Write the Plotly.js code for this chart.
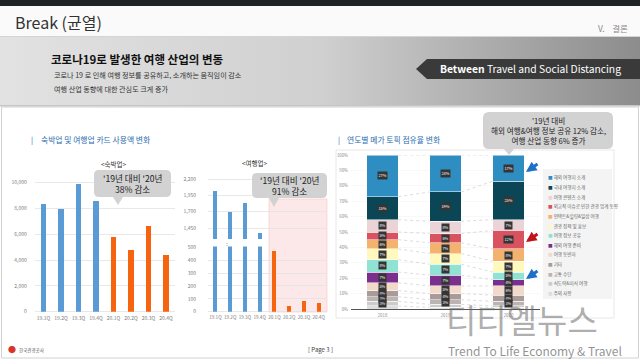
<!DOCTYPE html>
<html><head><meta charset="utf-8">
<script src="https://cdn.plot.ly/plotly-3.0.1.min.js"></script>
<style>
html,body{margin:0;padding:0;background:#fff;}
#wrap{position:relative;width:640px;height:361px;overflow:hidden;background:#fff;}
#bgTop{position:absolute;left:0;top:0;width:640px;height:6px;background:#1d2226;}
#bgHead{position:absolute;left:0;top:6px;width:640px;height:30px;background:#fafafa;}
#bgBand{position:absolute;left:0;top:36px;width:640px;height:70px;background:linear-gradient(90deg,#e2e2e2 0%,#d0d0d0 50%,#8c8c8c 100%);border-top:1px solid #d4d4d4;border-bottom:1px solid #c4c4c4;box-sizing:border-box;}
#chart{position:absolute;left:0;top:0;width:640px;height:361px;}
</style></head>
<body><div id="wrap"><div id="bgTop"></div><div id="bgHead"></div><div id="bgBand"></div><div id="chart"></div></div>
<script>
// ---------------- data ----------------
const quarters = ['19.1Q','19.2Q','19.3Q','19.4Q','20.1Q','20.2Q','20.3Q','20.4Q'];
const lodgingSpend = [8350, 7940, 9880, 8600, 5790, 4810, 6620, 4420];
const agencySpend = [2010, 1700, 1830, 1380, 470, 44, 83, 65];
const lodgingTicks = [0, 2000, 4000, 6000, 8000, 10000];
const agencyLowTicks = [0, 100, 200, 300, 400, 500];
const agencyHighTicks = [1450, 1700, 1950, 2200];
const years = ['2018', '2019', '2020'];
const topics = ['해외 여행지 소개','국내 여행지 소개','여행 콘텐츠 소개','외교적 이슈로 인한 관광 업계 동향','언택트&힐링&일상 여행','관광 정책 및 홍보','여행 정보 공유','해외 여행 준비','여행 동반자','기타','교통 수단','식도락&미식 여행','주의 사항'];
const share2018 = [27, 15, 8, 5, 6, 7, 8, 7, 5, 4, 3, 3, 2];
const share2019 = [24, 19, 8, 6, 7, 7, 7, 7, 5, 4, 3, 2, 1];
const share2020 = [17, 25, 7, 12, 8, 7, 5, 4, 6, 4, 3, 1, 1];
const topicColors = ['#2E8EC2','#0B4656','#EBD4D8','#D9525F','#F3B36F','#FFF9BE','#90E2D2','#7A2F8D','#F2DACB','#A99B99','#BCB4B3','#CCCCCC','#DEDEDE'];

// ---------------- helpers ----------------
const W = 640, H = 361;
const px = x => x / W;
const py = y => 1 - y / H;
const FONT = 'Noto Sans CJK KR, Noto Sans, sans-serif';
const BLUE = '#5B9BD5', ORANGE = '#F7640F';
const barColors = quarters.map(q => q.startsWith('19') ? BLUE : ORANGE);

const traces = [];
traces.push({type:'bar', x:quarters, y:lodgingSpend, xaxis:'x', yaxis:'y', width:0.3,
  marker:{color:barColors}, hoverinfo:'x+y'});
traces.push({type:'bar', x:quarters, y:agencySpend, xaxis:'x2', yaxis:'y2', width:0.27,
  marker:{color:barColors}, hoverinfo:'x+y'});
traces.push({type:'bar', x:quarters, y:agencySpend, xaxis:'x2', yaxis:'y3', width:0.27,
  marker:{color:barColors}, hoverinfo:'x+y'});

// stacked shares
const shares = [share2018, share2019, share2020];
const yearIdx = years.map((_, i) => i);
for (let k = topics.length - 1; k >= 0; k--) {
  traces.push({type:'bar', name:topics[k], x:yearIdx, y:shares.map(s => s[k]), xaxis:'x4', yaxis:'y4',
    width:0.5, marker:{color:topicColors[k], line:{color:'#ffffff', width:0.5}}, hoverinfo:'name+y'});
}
// cumulative tops
const tops = shares.map(s => {
  const out = new Array(s.length); let acc = 0;
  for (let k = s.length - 1; k >= 0; k--) { acc += s[k]; out[k] = acc; }
  return out;
});
// connectors
const cx = [], cy = [];
for (let i = 0; i < years.length - 1; i++) {
  for (let k = 0; k < topics.length; k++) {
    cx.push(i + 0.25, i + 0.75, null);
    cy.push(tops[i][k], tops[i + 1][k], null);
  }
}
traces.push({type:'scatter', mode:'lines', x:cx, y:cy, xaxis:'x4', yaxis:'y4',
  line:{color:'#c4c4c4', width:0.6, dash:'dot'}, hoverinfo:'skip'});

// ---------------- annotations ----------------
const ann = [];
function txt(x, y, text, size, color, opts) {
  ann.push(Object.assign({xref:'paper', yref:'paper', x:px(x), y:py(y), text:text, showarrow:false,
    xanchor:'left', yanchor:'middle', font:{family:FONT, size:size, color:color}}, opts || {}));
}
txt(13, 22, 'Break (균열)', 16, '#333');
txt(596, 28, 'V.&nbsp;&nbsp;&nbsp;&nbsp;결론', 8.5, '#8a8a8a');
txt(49, 59, '<b>코로나19로 발생한 여행 산업의 변동</b>', 11.5, '#111');
txt(52, 75, '코로나 19 로 인해 여행 정보를 공유하고, 소개하는 움직임이 감소', 7.1, '#333');
txt(52, 89, '여행 산업 동향에 대한 관심도 크게 증가', 7.1, '#333');
txt(438, 69, '<b>Between</b> Travel and Social Distancing', 10.3, '#ffffff');
txt(29, 139, '|', 7.5, '#2b6cb0');
txt(39, 139, '숙박업 및 여행업 카드 사용액 변화', 7.8, '#2b6cb0');
txt(336, 139, '|', 7.5, '#2b6cb0');
txt(345, 139, '연도별 메가 토픽 점유율 변화', 7.8, '#2b6cb0');
txt(114, 164, '<숙박업>', 6.5, '#333', {xanchor:'center'});
txt(255, 163, '<여행업>', 6.5, '#333', {xanchor:'center'});
txt(132, 183.5, "'19년 대비 '20년<br>38% 감소", 8.6, '#222', {xanchor:'center'});
txt(289, 185.5, "'19년 대비 '20년<br>91% 감소", 8.6, '#222', {xanchor:'center'});
txt(548, 130.5, "'19년 대비<br>해외 여행&여행 정보 공유 12% 감소,<br>여행 산업 동향 6% 증가", 7.6, '#222', {xanchor:'center'});
txt(224, 243, ':', 6, '#666');
// footer
txt(6, 349, '●', 8, '#d8352a');
txt(17, 350, '한국관광공사', 4.5, '#555');
txt(320, 349, '[ Page 3 ]', 6, '#444', {xanchor:'center'});
txt(444, 319, '티티엘뉴스', 33, 'rgba(105,105,105,0.55)');
txt(446, 350, 'Trend To Life Economy &amp; Travel', 12, 'rgba(110,110,110,0.75)');

// legend (manual)
topics.forEach((t, k) => {
  txt(546, 178 + k * 9.6, '<span style="color:' + topicColors[k] + '">■</span> ' + t, 4.6, '#666');
});

// segment labels
shares.forEach((s, i) => {
  s.forEach((v, k) => {
    if (v < 3) return;
    ann.push({xref:'x4', yref:'y4', x:i, y:tops[i][k] - v / 2, text:v + '%', showarrow:false,
      font:{family:FONT, size:3.9, color:'#ffffff'}, bgcolor:'#353535', borderpad:0.4});
  });
});

// arrows
function arrow(hx, hy, tx, ty, color) {
  ann.push({xref:'paper', yref:'paper', x:px(hx), y:py(hy), ax:tx - hx, ay:ty - hy, text:'',
    showarrow:true, arrowhead:2, arrowsize:0.7, arrowwidth:3, arrowcolor:color});
}
arrow(526, 172, 539, 163, '#1e6fc8');
arrow(526, 242, 539, 233, '#c0141c');
arrow(526, 279, 539, 270, '#1e6fc8');

// ---------------- shapes ----------------
function P(x, y) { return px(x).toFixed(5) + ',' + py(y).toFixed(5); }
function bubble(x0, y0, x1, y1, r, tx, tw, tipY) {
  return 'M' + P(x0 + r, y0) + ' L' + P(x1 - r, y0) + ' Q' + P(x1, y0) + ' ' + P(x1, y0 + r) +
    ' L' + P(x1, y1 - r) + ' Q' + P(x1, y1) + ' ' + P(x1 - r, y1) +
    ' L' + P(tx + tw, y1) + ' L' + P(tx, tipY) + ' L' + P(tx - tw, y1) +
    ' L' + P(x0 + r, y1) + ' Q' + P(x0, y1) + ' ' + P(x0, y1 - r) +
    ' L' + P(x0, y0 + r) + ' Q' + P(x0, y0) + ' ' + P(x0 + r, y0) + ' Z';
}
const shapes = [
  {type:'rect', xref:'paper', yref:'paper', x0:px(1.5), x1:px(638.5), y0:py(107), y1:py(358), line:{color:'#d2d2d2', width:1}, layer:'below'},
  {type:'rect', xref:'paper', yref:'paper', x0:px(336), x1:px(614), y0:py(150), y1:py(318), line:{color:'#e2e2e2', width:0.8}, fillcolor:'#ffffff', layer:'below'},
  {type:'rect', xref:'paper', yref:'paper', x0:px(543), x1:px(612), y0:py(169), y1:py(299), line:{width:0}, fillcolor:'#f4f4f4', layer:'below'},
  {type:'rect', xref:'paper', yref:'paper', x0:px(269), x1:px(327), y0:py(199), y1:py(312), line:{color:'#f3c6c6', width:0.6}, fillcolor:'rgba(248,205,205,0.45)', layer:'below'},
  {type:'path', xref:'paper', yref:'paper', path:'M' + P(416, 69) + ' L' + P(427, 59) + ' L' + P(640, 59) + ' L' + P(640, 79) + ' L' + P(427, 79) + ' Z', fillcolor:'#3a3a3a', line:{width:0}},
  {type:'path', xref:'paper', yref:'paper', path:bubble(94, 170, 171, 197, 5, 118, 5, 205), fillcolor:'#d2d2d2', line:{width:0}},
  {type:'path', xref:'paper', yref:'paper', path:bubble(252, 173, 327, 198, 5, 274, 5, 207), fillcolor:'#d2d2d2', line:{width:0}},
  {type:'path', xref:'paper', yref:'paper', path:bubble(483, 112, 613, 149, 6, 509, 5, 155), fillcolor:'#d2d2d2', line:{width:0}},
  {type:'line', xref:'paper', yref:'paper', x0:0, x1:1, y0:py(106), y1:py(106), line:{color:'#c8c8c8', width:1}}
];

// ---------------- layout ----------------
const tickF = {family:FONT, size:5, color:'#7a7a7a'};
const layout = {
  width:W, height:H, margin:{l:0, r:0, t:0, b:0},
  paper_bgcolor:'rgba(0,0,0,0)', plot_bgcolor:'rgba(0,0,0,0)',
  showlegend:false, barmode:'stack', font:{family:FONT},
  xaxis:{domain:[px(34.75), px(174.75)], anchor:'y', type:'category', categoryarray:quarters,
    tickfont:tickF, tickangle:0, showgrid:false, ticks:'', ticklabelstandoff:2, fixedrange:true},
  yaxis:{domain:[py(311.7), py(176)], anchor:'x', range:[0, 10500], tickvals:lodgingTicks, tickformat:',d',
    tickfont:tickF, gridcolor:'#e2e2e2', gridwidth:0.8, zeroline:true, zerolinecolor:'#e2e2e2', zerolinewidth:0.8,
    ticklabelstandoff:7, fixedrange:true},
  xaxis2:{domain:[px(208), px(326)], anchor:'y2', type:'category', categoryarray:quarters,
    tickfont:{family:FONT, size:4.6, color:'#7a7a7a'}, tickangle:0, showgrid:false, ticks:'', ticklabelstandoff:2, fixedrange:true},
  yaxis2:{domain:[py(311.7), py(246.6)], anchor:'x2', range:[0, 505], tickvals:agencyLowTicks,
    tickfont:tickF, gridcolor:'#e2e2e2', gridwidth:0.8, zeroline:true, zerolinecolor:'#e2e2e2', zerolinewidth:0.8,
    ticklabelstandoff:11, fixedrange:true},
  yaxis3:{domain:[py(239), py(177)], anchor:'x2', range:[1282, 2231], tickvals:agencyHighTicks, tickformat:',d',
    tickfont:tickF, gridcolor:'#e2e2e2', gridwidth:0.8, zeroline:false, ticklabelstandoff:11, fixedrange:true},
  xaxis4:{domain:[px(351), px(540)], anchor:'y4', range:[-0.5, 2.5], tickvals:yearIdx, ticktext:years,
    tickfont:{family:FONT, size:4.3, color:'#8a8a8a'}, showgrid:false, zeroline:false, ticks:'',
    showline:true, linecolor:'#555', linewidth:1, ticklabelstandoff:2, fixedrange:true},
  yaxis4:{domain:[py(309), py(155)], anchor:'x4', range:[0, 100], dtick:10, ticksuffix:'%',
    tickfont:{family:FONT, size:4.3, color:'#8a8a8a'}, showgrid:true, gridcolor:'#f1f1f1', gridwidth:0.5,
    zeroline:false, ticklabelstandoff:2, fixedrange:true},
  annotations:ann, shapes:shapes
};
Plotly.newPlot('chart', traces, layout, {staticPlot:true, displayModeBar:false});
</script></body></html>
